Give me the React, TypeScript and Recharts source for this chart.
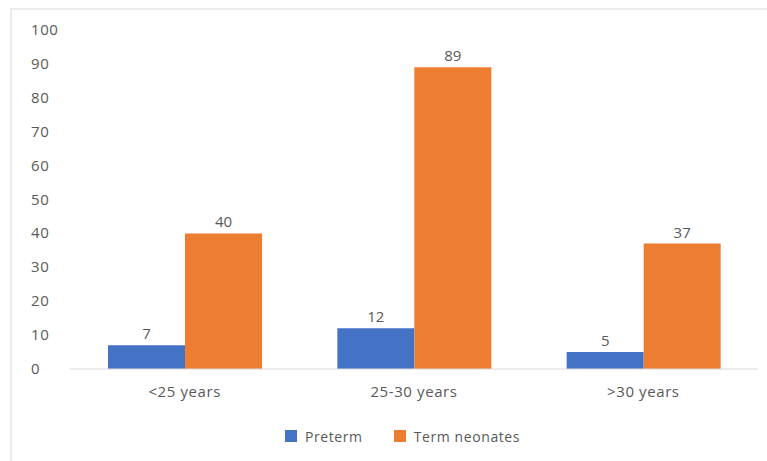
import React from "react";
import { BarChart, Bar, XAxis, YAxis, Legend, LabelList } from "recharts";

const categories = ["<25 years", "25-30 years", ">30 years"];
const preterm = [7, 12, 5];
const termNeonates = [40, 89, 37];
const yTicks = [0, 10, 20, 30, 40, 50, 60, 70, 80, 90, 100];
const seriesNames = ["Preterm", "Term neonates"];
const seriesColors = ["#4472C4", "#ED7D31"];

const data = categories.map((c, i) => ({ name: c, preterm: preterm[i], term: termNeonates[i] }));

const FONT = "'Open Sans', 'Noto Sans', sans-serif";
const TEXT = "#595959";
const LS = 0.6;

const YTick = (props: any) => {
  const { y, payload } = props;
  return (
    <text x={31} y={y} dy={5} textAnchor="start" fill={TEXT} fontSize={15} fontFamily={FONT} letterSpacing={LS}>
      {payload.value}
    </text>
  );
};

const LegendContent = () => (
  <div style={{ display: "flex", justifyContent: "center", alignItems: "center", paddingLeft: 47, fontFamily: FONT, fontSize: 14, letterSpacing: LS, color: TEXT, height: 24 }}>
    {seriesNames.map((n, i) => (
      <div key={n} style={{ display: "flex", alignItems: "center", marginRight: i === 0 ? 31 : 0 }}>
        <span style={{ display: "inline-block", width: 12, height: 12, background: seriesColors[i], marginRight: 8 }} />
        <span>{n}</span>
      </div>
    ))}
  </div>
);

export default function App() {
  return (
    <div style={{ position: "absolute", left: 0, top: 0, width: 767, height: 461, background: "#fff" }}>
      <div style={{ position: "absolute", left: 10, top: 8, width: 757, height: 453, borderLeft: "2px solid #ececec", borderTop: "2px solid #ececec", boxSizing: "border-box" }} />
      <BarChart
        width={767}
        height={461}
        data={data}
        margin={{ top: 30, right: 9, left: 0, bottom: 13 }}
        barGap={0}
        barSize={77}
        style={{ position: "absolute", left: 0, top: 0 }}
      >
        <XAxis
          dataKey="name"
          axisLine={{ stroke: "#d9d9d9", strokeWidth: 1 }}
          tickLine={false}
          height={55}
          tick={{ fill: TEXT, fontSize: 15, fontFamily: FONT, dy: 9, letterSpacing: LS }}
        />
        <YAxis
          width={70}
          domain={[0, 100]}
          ticks={yTicks}
          axisLine={false}
          tickLine={false}
          tick={<YTick />}
          interval={0}
        />
        <Legend verticalAlign="bottom" height={24} content={<LegendContent />} />
        <Bar dataKey="preterm" name={seriesNames[0]} fill={seriesColors[0]} isAnimationActive={false}>
          <LabelList dataKey="preterm" position="top" fill={TEXT} fontSize={15} fontFamily={FONT} offset={6} />
        </Bar>
        <Bar dataKey="term" name={seriesNames[1]} fill={seriesColors[1]} isAnimationActive={false}>
          <LabelList dataKey="term" position="top" fill={TEXT} fontSize={15} fontFamily={FONT} offset={6} />
        </Bar>
      </BarChart>
    </div>
  );
}
